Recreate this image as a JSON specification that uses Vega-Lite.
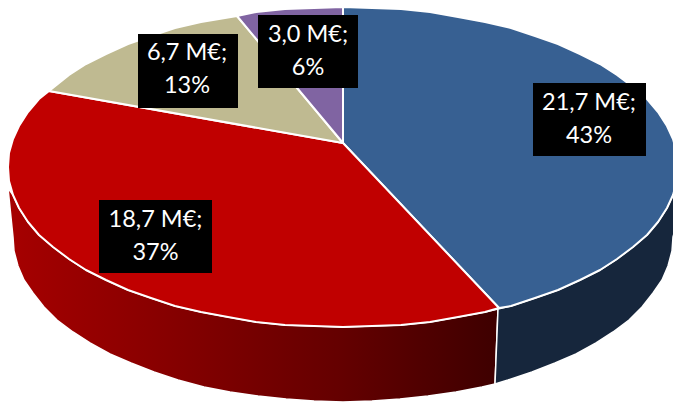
{
 "$schema":"https://vega.github.io/schema/vega-lite/v6.json",
 "width":673,"height":402,"padding":0,
 "autosize":{"type":"fit","contains":"padding"},
 "background":"white",
 "view":{"stroke":null},
 "datasets":{
  "wallRed":[{"x":8,"y":188},{"x":13,"y":237},{"x":14,"y":251},{"x":18,"y":266},{"x":24,"y":280},{"x":33,"y":293},{"x":44,"y":307},{"x":57,"y":320},{"x":73,"y":332},{"x":90,"y":343},{"x":110,"y":354},{"x":131,"y":363},{"x":154,"y":372},{"x":178,"y":380},{"x":204,"y":387},{"x":230,"y":392},{"x":258,"y":396},{"x":286,"y":399},{"x":314,"y":401},{"x":343,"y":402},{"x":372,"y":401},{"x":400,"y":399},{"x":428,"y":396},{"x":456,"y":392},{"x":482,"y":387},{"x":495,"y":384},{"x":498,"y":309},{"x":485,"y":312},{"x":458,"y":317},{"x":430,"y":322},{"x":401,"y":325},{"x":372,"y":326},{"x":343,"y":327},{"x":314,"y":326},{"x":285,"y":325},{"x":256,"y":322},{"x":228,"y":317},{"x":201,"y":312},{"x":175,"y":306},{"x":151,"y":298},{"x":128,"y":290},{"x":106,"y":280},{"x":86,"y":270},{"x":69,"y":259},{"x":53,"y":247},{"x":39,"y":235},{"x":28,"y":222},{"x":19,"y":208},{"x":13,"y":195},{"x":8,"y":188}],
  "wallBlue":[{"x":498,"y":309},{"x":511,"y":306},{"x":535,"y":298},{"x":558,"y":290},{"x":580,"y":280},{"x":600,"y":270},{"x":617,"y":259},{"x":633,"y":247},{"x":647,"y":235},{"x":658,"y":222},{"x":667,"y":208},{"x":673,"y":195},{"x":677,"y":181},{"x":675,"y":230},{"x":673,"y":237},{"x":672,"y":251},{"x":668,"y":266},{"x":662,"y":280},{"x":653,"y":293},{"x":642,"y":307},{"x":629,"y":320},{"x":613,"y":332},{"x":596,"y":343},{"x":576,"y":354},{"x":555,"y":363},{"x":532,"y":372},{"x":508,"y":380},{"x":495,"y":384},{"x":498,"y":309}],
  "sliceBlue":[{"x":343,"y":143},{"x":343,"y":7},{"x":372,"y":8},{"x":401,"y":9},{"x":430,"y":12},{"x":458,"y":17},{"x":485,"y":22},{"x":511,"y":28},{"x":535,"y":36},{"x":558,"y":44},{"x":580,"y":54},{"x":600,"y":64},{"x":617,"y":75},{"x":633,"y":87},{"x":647,"y":99},{"x":658,"y":112},{"x":667,"y":126},{"x":673,"y":139},{"x":677,"y":153},{"x":678,"y":167},{"x":677,"y":181},{"x":673,"y":195},{"x":667,"y":208},{"x":658,"y":222},{"x":647,"y":235},{"x":633,"y":247},{"x":617,"y":259},{"x":600,"y":270},{"x":580,"y":280},{"x":558,"y":290},{"x":535,"y":298},{"x":511,"y":306},{"x":499,"y":308},{"x":343,"y":143}],
  "sliceRed":[{"x":343,"y":143},{"x":499,"y":308},{"x":485,"y":312},{"x":458,"y":317},{"x":430,"y":322},{"x":401,"y":325},{"x":372,"y":326},{"x":343,"y":327},{"x":314,"y":326},{"x":285,"y":325},{"x":256,"y":322},{"x":228,"y":317},{"x":201,"y":312},{"x":175,"y":306},{"x":151,"y":298},{"x":128,"y":290},{"x":106,"y":280},{"x":86,"y":270},{"x":69,"y":259},{"x":53,"y":247},{"x":39,"y":235},{"x":28,"y":222},{"x":19,"y":208},{"x":13,"y":195},{"x":9,"y":181},{"x":8,"y":167},{"x":9,"y":153},{"x":13,"y":139},{"x":19,"y":126},{"x":28,"y":112},{"x":39,"y":99},{"x":49,"y":91},{"x":343,"y":143}],
  "sliceTan":[{"x":343,"y":143},{"x":49,"y":91},{"x":69,"y":75},{"x":86,"y":64},{"x":106,"y":54},{"x":128,"y":44},{"x":151,"y":36},{"x":175,"y":28},{"x":201,"y":22},{"x":237,"y":16},{"x":343,"y":143}],
  "slicePurple":[{"x":343,"y":143},{"x":237,"y":16},{"x":256,"y":12},{"x":285,"y":9},{"x":314,"y":8},{"x":343,"y":7},{"x":343,"y":143}],
  "labels":[
   {"label":"21,7 M€;\n43%","x0":533,"x1":646,"y0":83,"y1":156,"xc":589,"yc":103},
   {"label":"18,7 M€;\n37%","x0":99,"x1":212,"y0":200,"y1":273,"xc":155.5,"yc":220},
   {"label":"6,7 M€;\n13%","x0":138,"x1":238,"y0":34,"y1":108,"xc":187,"yc":53},
   {"label":"3,0 M€;\n6%","x0":258,"x1":358,"y0":15,"y1":88,"xc":308,"yc":35}
  ]
 },
 "encoding":{
  "x":{"field":"x","type":"quantitative","scale":{"domain":[0,673],"nice":false,"zero":false},"axis":null},
  "y":{"field":"y","type":"quantitative","scale":{"domain":[402,0],"nice":false,"zero":false},"axis":null}
 },
 "layer":[
  {"data":{"name":"wallRed"},"transform":[{"window":[{"op":"row_number","as":"i"}]}],
   "mark":{"type":"line","clip":true,"strokeWidth":1.5,"stroke":"white","strokeJoin":"round","fill":{"gradient":"linear","x1":0,"x2":1,"y1":0,"y2":0,"stops":[{"offset":0,"color":"#a60000"},{"offset":0.68,"color":"#640000"},{"offset":1,"color":"#3e0000"}]}},
   "encoding":{"order":{"field":"i","type":"quantitative"}}},
  {"data":{"name":"wallBlue"},"transform":[{"window":[{"op":"row_number","as":"i"}]}],
   "mark":{"type":"line","clip":true,"strokeWidth":1.5,"stroke":"white","strokeJoin":"round","fill":"#16263c"},
   "encoding":{"order":{"field":"i","type":"quantitative"}}},
  {"data":{"name":"sliceBlue"},"transform":[{"window":[{"op":"row_number","as":"i"}]}],
   "mark":{"type":"line","clip":true,"strokeWidth":2,"stroke":"white","strokeJoin":"round","fill":"#376092"},
   "encoding":{"order":{"field":"i","type":"quantitative"}}},
  {"data":{"name":"sliceRed"},"transform":[{"window":[{"op":"row_number","as":"i"}]}],
   "mark":{"type":"line","clip":true,"strokeWidth":2,"stroke":"white","strokeJoin":"round","fill":"#c00000"},
   "encoding":{"order":{"field":"i","type":"quantitative"}}},
  {"data":{"name":"sliceTan"},"transform":[{"window":[{"op":"row_number","as":"i"}]}],
   "mark":{"type":"line","clip":true,"strokeWidth":2,"stroke":"white","strokeJoin":"round","fill":"#bfba91"},
   "encoding":{"order":{"field":"i","type":"quantitative"}}},
  {"data":{"name":"slicePurple"},"transform":[{"window":[{"op":"row_number","as":"i"}]}],
   "mark":{"type":"line","clip":true,"strokeWidth":2,"stroke":"white","strokeJoin":"round","fill":"#8064a2"},
   "encoding":{"order":{"field":"i","type":"quantitative"}}},
  {"data":{"name":"labels"},
   "mark":{"type":"rect","fill":"black"},
   "encoding":{"x":{"field":"x0","type":"quantitative"},"x2":{"field":"x1"},"y":{"field":"y0","type":"quantitative"},"y2":{"field":"y1"}}},
  {"data":{"name":"labels"},
   "mark":{"type":"text","font":"Lato","fontSize":23.5,"color":"white","align":"center","baseline":"middle","lineBreak":"\n","lineHeight":33},
   "encoding":{"x":{"field":"xc","type":"quantitative"},"y":{"field":"yc","type":"quantitative"},"text":{"field":"label"}}}
 ]
}
